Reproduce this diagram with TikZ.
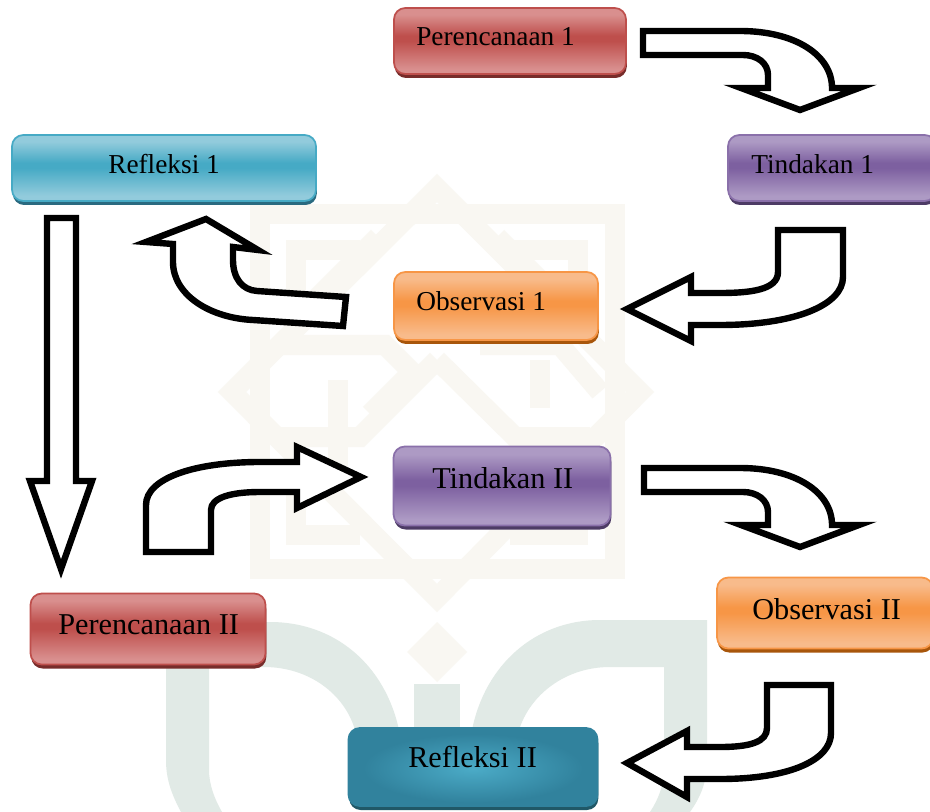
\documentclass[tikz,border=0pt]{standalone}
\usepackage{fontspec}
\setmainfont{Liberation Serif}
\usetikzlibrary{shadows}
\def\px{.75pt}
\definecolor{wmtan}{HTML}{F9F7F2}
\definecolor{wmgreen}{HTML}{E1EAE6}
\definecolor{rdS}{HTML}{772C2A}
\definecolor{puS}{HTML}{4D3B65}
\definecolor{blS}{HTML}{2A6A80}
\definecolor{ogS}{HTML}{A8560B}
\definecolor{tlS}{HTML}{205867}
\newcommand{\glossdecl}[3]{%
  \definecolor{#1L}{HTML}{#2}\definecolor{#1M}{HTML}{#3}%
  \pgfdeclareverticalshading{#1gloss}{100bp}{color(0bp)=(#1L);color(29bp)=(#1L);color(50bp)=(#1M);color(54bp)=(#1M);color(70bp)=(#1L);color(100bp)=(#1L)}}
\glossdecl{rd}{D98F8E}{BE4F4C}
\glossdecl{pu}{AD9AC4}{7D60A0}
\glossdecl{bl}{92CBDC}{46AAC5}
\glossdecl{og}{F8BB8B}{F79646}
\definecolor{tlA}{HTML}{4BABC7}
\definecolor{tlB}{HTML}{31829D}
\pgfdeclareradialshading{tealglow}{\pgfpoint{0bp}{-1bp}}{color(0bp)=(tlA);color(22bp)=(tlB);color(100bp)=(tlB)}
\tikzset{
  glossbox/.style n args={3}{rectangle,rounded corners=8.5pt,inner sep=0pt,draw=#2,line width=1.3pt,
    shading=#1,general shadow={fill=#3,shadow xshift=.6pt,shadow yshift=-3pt}},
  redbox/.style={glossbox={rdgloss}{rdM}{rdS}},
  purplebox/.style={glossbox={pugloss}{puM!90!white}{puS}},
  bluebox/.style={glossbox={blgloss}{blM}{blS}},
  orangebox/.style={glossbox={oggloss}{ogM}{ogS}},
  tealbox/.style={glossbox={tealglow}{tlB}{tlS}},
  labA/.style={anchor=base west,inner sep=0pt,font=\fontsize{20.5pt}{24pt}\selectfont},
  labB/.style={anchor=base west,inner sep=0pt,font=\fontsize{22.7pt}{26pt}\selectfont},
  blockarrow/.style={draw=black,fill=white,line width=4.8pt,miter limit=12,line join=miter},
  wmline/.style={draw=wmtan,line width=15pt,line join=miter},
}
\begin{document}
\begin{tikzpicture}[x=.75pt,y=-.75pt]
\clip (0,0) rectangle (930,812);
\fill[white] (0,0) rectangle (930,812);
% watermark
\draw[wmline] (260,214) rectangle (615,569);
\draw[wmline] (360,250) -- (296,250) -- (296,330);
\draw[wmline] (510,250) -- (578,250) -- (578,330);
\draw[wmline] (296,460) -- (296,535) -- (360,535);
\draw[wmline] (578,460) -- (578,535) -- (510,535);
\draw[wmline] (437,188) -- (640,392) -- (437,598) -- (232,392) -- cycle;
\draw[wmline] (315,300) -- (378,237);
\draw[wmline] (497,237) -- (560,300);
\draw[wmline] (280,345) -- (385,345) -- (412,372) -- (370,414);
\draw[wmline] (338,380) -- (338,470);
\draw[wmline] (540,360) -- (540,408);
\draw[wmline] (437,360) -- (360,437) -- (280,437);
\draw[wmline] (437,360) -- (515,437) -- (590,437);
\draw[wmline] (480,345) -- (560,345) -- (600,392);
\fill[wmtan] (437,622) -- (467,652) -- (437,682) -- (407,652) -- cycle;
% green watermark shapes
\fill[wmgreen] (166,667) -- (260,667) -- (260,622) -- (270,622)
   .. controls (335,622) and (385,665) .. (399,730) -- (355,730)
   .. controls (345,695) and (310,667) .. (264,667) -- (209,667) -- (209,770)
   .. controls (209,785) and (215,800) .. (222,812) -- (181,812)
   .. controls (172,795) and (166,780) .. (166,760) -- cycle;
\fill[wmgreen] (414,684) rectangle (460,730);
\fill[wmgreen] (707,620) -- (600,620)
   .. controls (535,620) and (485,665) .. (472,730) -- (519,730)
   .. controls (530,695) and (565,667) .. (610,667) -- (664,667) -- (664,770)
   .. controls (664,785) and (658,800) .. (650,812) -- (690,812)
   .. controls (702,795) and (707,780) .. (707,760) -- cycle;
% boxes
\node[redbox,minimum width=232*\px,minimum height=66*\px] (p1) at (510,41) {};
\node[purplebox,minimum width=208*\px,minimum height=66*\px] (t1) at (832,168) {};
\node[bluebox,minimum width=304*\px,minimum height=66*\px] (r1) at (164,168) {};
\node[orangebox,minimum width=204*\px,minimum height=68*\px] (o1) at (496,306) {};
\node[purplebox,minimum width=217*\px,minimum height=79*\px] (t2) at (502,486) {};
\node[redbox,minimum width=235*\px,minimum height=71*\px] (p2) at (148,629) {};
\node[orangebox,minimum width=216*\px,minimum height=71*\px] (o2) at (825,613) {};
\node[tealbox,minimum width=249*\px,minimum height=78*\px] (r2) at (473,767) {};
% labels
\node[labA] (lp1) at (416,46) {Perencanaan 1};
\node[labA] (lt1) at (751,174) {Tindakan 1};
\node[labA] (lr1) at (108,174) {Refleksi 1};
\node[labA] (lo1) at (416,311) {Observasi 1};
\node[labB] (lt2) at (432,488) {Tindakan II};
\node[labB] (lp2) at (58,634) {Perencanaan II};
\node[labB] (lo2) at (752,619) {Observasi II};
\node[labB] (lr2) at (408,767) {Refleksi II};
% block arrows
\draw[blockarrow] (643,31) -- (740,31) .. controls (795,31) and (832,55) .. (832,88)
  -- (859,88) -- (800,110) -- (741,88) -- (768,88) -- (768,75)
  .. controls (768,63) and (757,55) .. (743,55) -- (643,55) -- cycle;
\draw[blockarrow] (778,230) -- (843,230) -- (843,277) .. controls (843,305) and (795,325) .. (720,325)
  -- (691,325) -- (691,341) -- (627,309) -- (691,277) -- (691,293) -- (720,293)
  .. controls (750,293) and (778,290) .. (778,272) -- cycle;
\draw[blockarrow] (346,297) -- (257,291) .. controls (242,290) and (233,278) .. (233,260)
  -- (233,247) -- (258,250) -- (206,219) -- (146,242) -- (173,244) -- (173,262)
  .. controls (173,295) and (210,318) .. (253,320) -- (343,326) -- cycle;
\draw[blockarrow] (47,218) -- (76,218) -- (76,481) -- (92,481) -- (61,569) -- (30,481) -- (47,481) -- cycle;
\draw[blockarrow] (146,552) -- (146,505) .. controls (146,478) and (195,462) .. (260,462)
  -- (297,462) -- (297,447) -- (361,477) -- (297,508) -- (297,492) -- (260,492)
  .. controls (230,492) and (211,498) .. (211,510) -- (211,552) -- cycle;
\draw[blockarrow] (644,468) -- (740,468) .. controls (795,468) and (832,492) .. (832,525)
  -- (859,525) -- (800,547) -- (741,525) -- (768,525) -- (768,512)
  .. controls (768,500) and (757,492) .. (743,492) -- (644,492) -- cycle;
\draw[blockarrow] (767,685) -- (831,685) -- (831,733) .. controls (831,760) and (790,779) .. (720,779)
  -- (687,779) -- (687,797) -- (627,763) -- (687,731) -- (687,747) -- (720,747)
  .. controls (750,747) and (767,742) .. (767,728) -- cycle;
\end{tikzpicture}
\end{document}
